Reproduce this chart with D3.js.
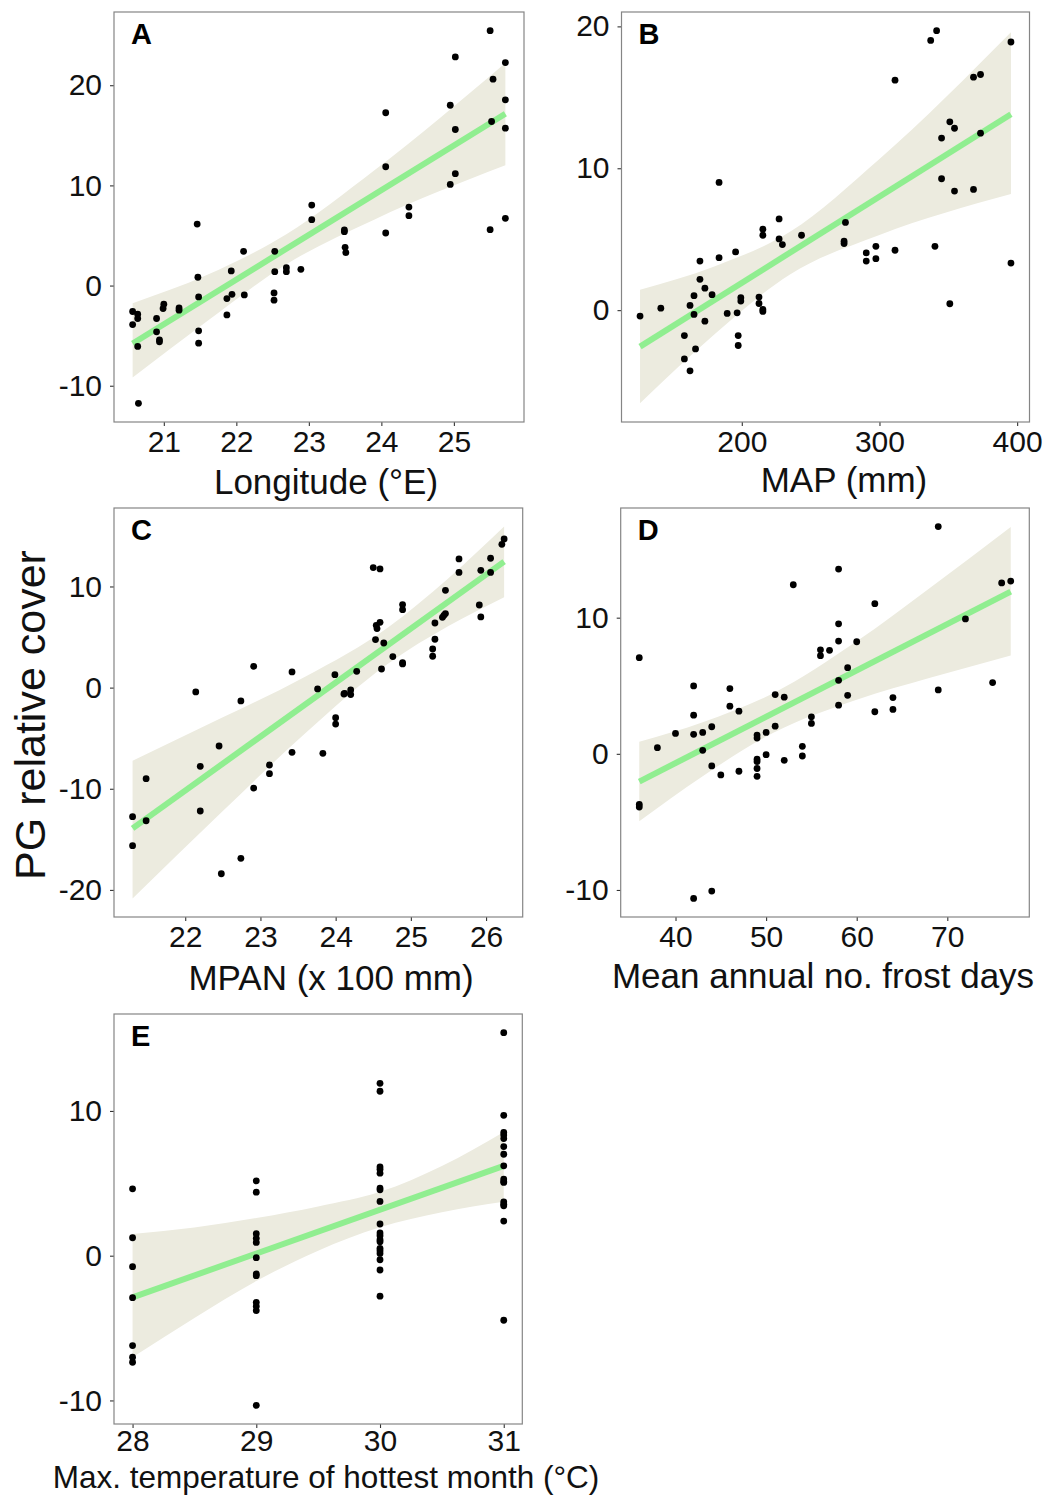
<!DOCTYPE html>
<html>
<head>
<meta charset="utf-8">
<script src="https://cdn.jsdelivr.net/npm/d3@7"></script>
<style>
  body { margin: 0; background: #fff; }
  svg { font-family: "Liberation Sans", Arial, sans-serif; }
</style>
</head>
<body>
<div id="vis"></div>
<script>
// ---- points ----
var aLon = [20.57,20.64,20.64,20.57,20.64,20.65,20.90,20.90,20.94,20.94,20.99,21.00,21.21,21.21,21.46,21.47,21.48,21.48,21.48,21.87,21.87,21.93,21.94,22.10,22.11,22.53,22.53,22.52,22.52,22.69,22.69,22.89,23.04,23.04,23.49,23.49,23.50,23.51,24.06,24.06,24.06,24.38,24.38,24.95,24.95,25.02,25.02,25.02,25.50,25.54,25.52,25.50,25.71,25.71,25.71,25.71];
var aCover = [-2.59,-2.86,-3.29,-3.89,-6.08,-11.76,-3.29,-4.62,-5.42,-5.62,-2.29,-1.86,-2.23,-2.46,6.14,0.83,-1.13,-4.52,-5.75,-1.30,-2.93,1.46,-0.87,3.42,-0.93,3.42,1.39,-0.73,-1.46,1.79,1.39,1.62,8.04,6.58,5.55,5.38,3.82,3.29,17.25,11.86,5.25,7.84,6.98,18.0,10.10,22.83,15.58,11.17,25.45,20.6,16.38,5.58,22.26,18.54,15.71,6.71];

var bMap = [126.1,141.2,158.3,158.3,162.4,162.4,165.3,165.3,166.4,169.6,169.6,173.2,173.2,178.4,183.5,183.5,189.4,195.5,196.6,197.4,197.4,199.3,199.3,212.5,212.5,215.3,215.3,215.3,215.3,227.1,227.1,229.5,243.4,275.3,274.3,274.3,290.4,290.4,297.4,297.4,311.3,311.3,337.2,341.5,340.3,345.1,345.1,351.1,351.1,354.5,354.5,368.3,368.3,373.4,373.4,395.5,395.5];
var bCover = [-0.42,0.14,-1.79,-3.44,-4.28,0.33,-0.30,1.02,-2.73,3.46,2.17,1.55,-0.78,1.09,9.0,3.70,-0.23,4.10,-0.19,-1.79,-2.49,0.88,0.64,0.92,0.47,0.05,-0.09,5.70,5.28,6.43,5.02,4.62,5.28,6.18,4.86,4.69,4.03,3.46,4.50,3.63,16.21,4.22,19.01,19.70,4.50,12.13,9.26,13.27,0.45,12.82,8.39,16.42,8.51,16.61,12.47,18.90,3.32];

var cMpan = [21.30,21.30,21.48,21.48,22.14,22.20,22.20,22.45,22.48,22.74,22.74,22.91,22.91,23.12,23.12,23.42,23.42,23.76,23.83,23.99,24.00,24.00,24.11,24.12,24.20,24.20,24.28,24.50,24.59,24.53,24.54,24.55,24.59,24.61,24.64,24.76,24.89,24.89,24.89,24.89,25.29,25.29,25.32,25.32,25.42,25.44,25.46,25.46,25.64,25.64,25.91,25.93,25.93,26.06,26.06,26.21,26.24];
var cCover = [-12.76,-15.63,-9.0,-13.16,-0.43,-7.78,-12.2,-5.77,-18.4,-1.32,-16.88,2.11,-9.93,-7.65,-8.51,1.55,-6.40,-0.13,-6.5,1.28,-2.97,-3.6,-0.63,-0.56,-0.23,-0.69,1.61,11.87,11.73,4.75,6.16,5.84,6.46,1.84,4.41,3.07,8.21,7.71,2.47,2.34,3.82,3.10,6.39,4.78,6.95,7.15,7.32,9.62,12.72,11.39,8.17,11.6,6.99,12.79,11.39,14.17,14.7];

var dFrost = [36,36,36,38,40,42,42,42,42,43,43,44,44,44,45,46,46,47,47,49,49,49,49,49,49,50,50,51,51,52,52,53,54,54,55,55,56,56,57,58,58,58,58,58,59,59,60,62,62,64,64,69,69,72,75,76,77];
var dCover = [7.06,-3.72,-3.91,0.45,1.50,4.99,2.84,1.43,-10.62,1.57,0.26,1.99,-0.89,-10.08,-1.55,4.79,3.50,3.13,-1.28,1.38,1.16,-0.40,-0.57,-1.08,-1.65,1.57,-0.06,4.35,2.03,4.16,-0.48,12.42,0.55,-0.16,2.72,2.23,7.64,7.21,7.6,13.57,9.55,8.28,5.40,3.57,6.33,4.30,8.23,11.03,3.09,4.13,3.26,16.69,4.69,9.91,5.23,12.55,12.69];

var eTemp = [28,28,28,28,28,28,28,
  29,29,29,29,29,29,29,29,29,29,29,29,
  30,30,30,30,30,30,30,30,30,30,30,30,30,30,30,30,30,30,30,
  31,31,31,31,31,31,31,31,31,31,31,31,31,31,31,31];
var eCover = [4.62,1.24,-0.76,-2.90,-6.21,-7.01,-7.36,
  5.17,4.39,1.52,1.20,0.92,-0.14,-1.26,-1.38,-3.22,-3.49,-3.79,-10.34,
  11.91,11.36,6.14,5.98,5.70,4.67,4.55,3.75,2.19,1.57,1.38,1.10,0.97,0.51,0.34,0.16,-0.28,-0.99,-2.80,
  15.41,9.70,8.51,8.33,8.09,7.54,7.01,6.21,5.29,5.13,5.06,3.72,3.56,3.45,2.39,-4.46];

// ---- fitted lines and confidence bands ----
var aFitX = [20.57, 25.71], aFitY = [-5.78, 17.15];
var aBandX = [20.57, 21.6, 22.69, 23.9, 25.71];
var aBandHi = [-1.76, 1.07, 5.13, 11.48, 22.23];
var aBandLo = [-9.17, -3.53, 2.13, 6.58, 12.0];

var bFitX = [126.1, 395.5], bFitY = [-2.57, 13.81];
var bBandX = [126.1, 180, 235, 300, 395.5];
var bBandHi = [1.44, 3.08, 5.52, 10.65, 19.58];
var bBandLo = [-6.57, -1.72, 2.52, 5.29, 8.18];

var cFitX = [21.30, 26.24], cFitY = [-13.92, 12.46];
var cBandX = [21.30, 22.5, 23.6, 24.7, 25.5, 26.24];
var cBandHi = [-7.22, -2.94, 1.10, 5.98, 10.82, 15.92];
var cBandLo = [-20.84, -12.2, -4.48, 2.38, 6.08, 8.93];

var dFitX = [36, 77], dFitY = [-2.04, 11.91];
var dBandX = [36, 43, 50.8, 60, 68, 77];
var dBandHi = [0.89, 2.32, 4.45, 8.26, 12.14, 16.66];
var dBandLo = [-4.96, -1.64, 1.55, 3.98, 5.56, 7.23];

var eFitX = [28, 31], eFitY = [-2.88, 6.21];
var eBandX = [28, 28.5, 29, 29.5, 30, 30.5, 31];
var eBandHi = [1.50, 1.95, 2.6, 3.4, 4.41, 6.2, 8.55];
var eBandLo = [-7.01, -4.3, -1.75, 0.35, 1.96, 3.0, 3.72];

// ---- labels and ticks ----
var panelLetters = ["A", "B", "C", "D", "E"];
var xTitles = ["Longitude (\u00B0E)", "MAP (mm)", "MPAN (x 100 mm)", "Mean annual no. frost days", "Max. temperature of hottest month (\u00B0C)"];
var xTickVals = [[21,22,23,24,25], [200,300,400], [22,23,24,25,26], [40,50,60,70], [28,29,30,31]];
var yTickVals = [[-10,0,10,20], [0,10,20], [-20,-10,0,10], [-10,0,10], [-10,0,10]];
var yTitle = "PG relative cover";

// ---- layout ----
var boxes = [
  {x0:114, x1:524, y0:12, y1:422, titleX:326, titleY:72, tickY:30, titleSize:35},
  {x0:621.5, x1:1029.5, y0:12, y1:422, titleX:844, titleY:70, tickY:30, titleSize:35},
  {x0:114, x1:522.7, y0:508, y1:917, titleX:331, titleY:73, tickY:30, titleSize:35},
  {x0:620.7, x1:1029.3, y0:508, y1:917, titleX:823, titleY:71, tickY:30, titleSize:35},
  {x0:114, x1:522.3, y0:1014, y1:1424, titleX:326, titleY:64, tickY:27, titleSize:31.5}
];

var panels = [
  {x: aLon, y: aCover, fitX: aFitX, fitY: aFitY, bx: aBandX, hi: aBandHi, lo: aBandLo},
  {x: bMap, y: bCover, fitX: bFitX, fitY: bFitY, bx: bBandX, hi: bBandHi, lo: bBandLo},
  {x: cMpan, y: cCover, fitX: cFitX, fitY: cFitY, bx: cBandX, hi: cBandHi, lo: cBandLo},
  {x: dFrost, y: dCover, fitX: dFitX, fitY: dFitY, bx: dBandX, hi: dBandHi, lo: dBandLo},
  {x: eTemp, y: eCover, fitX: eFitX, fitY: eFitY, bx: eBandX, hi: eBandHi, lo: eBandLo}
];

var svg = d3.select("#vis")
    .append("svg")
    .attr("width", 1043)
    .attr("height", 1497);

function expand(ext) {
  var d = (ext[1] - ext[0]) * 0.05;
  return [ext[0] - d, ext[1] + d];
}

boxes.forEach(function(box, k) {
  var p = panels[k];

  var yExt = d3.extent(p.y.concat(p.hi, p.lo));
  var x = d3.scaleLinear().domain(expand(d3.extent(p.x))).range([box.x0, box.x1]);
  var y = d3.scaleLinear().domain(expand(yExt)).range([box.y1, box.y0]);

  var g = svg.append("g").attr("class", "panel");

  // confidence band
  g.append("path")
    .datum(p.bx)
    .attr("fill", "#ecebdf")
    .attr("d", d3.area()
      .curve(d3.curveMonotoneX)
      .x(function(d) { return x(d); })
      .y0(function(d, i) { return y(p.lo[i]); })
      .y1(function(d, i) { return y(p.hi[i]); }));

  // fitted line
  g.append("path")
    .datum(p.fitX)
    .attr("fill", "none")
    .attr("stroke", "#90ee90")
    .attr("stroke-width", 6)
    .attr("d", d3.line()
      .x(function(d) { return x(d); })
      .y(function(d, i) { return y(p.fitY[i]); }));

  g.selectAll(".pt")
    .data(p.x)
    .enter()
    .append("circle")
    .attr("class", "pt")
    .attr("cx", function(d) { return x(d); })
    .attr("cy", function(d, i) { return y(p.y[i]); })
    .attr("r", 3.4)
    .attr("fill", "#000");

  // axes
  var xAxis = g.append("g")
    .attr("transform", "translate(0," + box.y1 + ")")
    .call(d3.axisBottom(x).tickValues(xTickVals[k]).tickSize(4).tickFormat(function(d) { return String(d); }));
  var yAxis = g.append("g")
    .attr("transform", "translate(" + box.x0 + ",0)")
    .call(d3.axisLeft(y).tickValues(yTickVals[k]).tickSize(4).tickPadding(8).tickFormat(function(d) { return String(d); }));

  [xAxis, yAxis].forEach(function(ax) {
    ax.select(".domain").remove();
    ax.selectAll(".tick line").attr("stroke", "#333").attr("stroke-width", 1.1);
    ax.selectAll(".tick text")
      .attr("fill", "#111")
      .style("font-size", "30px");
  });
  xAxis.selectAll(".tick text").attr("dy", null).attr("y", box.tickY);

  // panel border
  g.append("rect")
    .attr("x", box.x0).attr("y", box.y0)
    .attr("width", box.x1 - box.x0).attr("height", box.y1 - box.y0)
    .attr("fill", "none")
    .attr("stroke", "#858585")
    .attr("stroke-width", 1.2);

  g.append("text")
    .attr("x", box.x0 + 17)
    .attr("y", box.y0 + 32)
    .attr("font-weight", "bold")
    .attr("font-size", "29px")
    .attr("fill", "#000")
    .text(panelLetters[k]);

  g.append("text")
    .attr("x", box.titleX)
    .attr("y", box.y1 + box.titleY)
    .attr("text-anchor", "middle")
    .attr("font-size", box.titleSize + "px")
    .attr("fill", "#111")
    .text(xTitles[k]);
});

svg.append("text")
  .attr("transform", "translate(45,715) rotate(-90)")
  .attr("text-anchor", "middle")
  .attr("font-size", "43px")
  .attr("fill", "#111")
  .text(yTitle);
</script>
</body>
</html>
